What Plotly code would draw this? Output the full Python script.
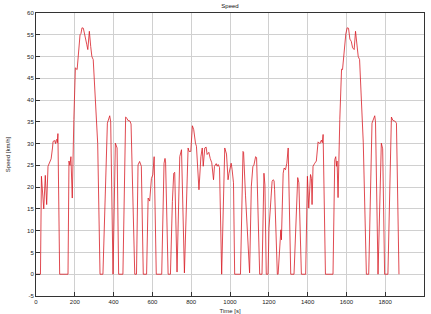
import plotly.graph_objects as go

time_s = [0, 23, 28, 33, 40, 48, 55, 62, 68, 71, 78, 85, 88, 96, 101, 104, 108, 110, 113, 122,
          165, 170, 175, 180, 187, 195, 203, 212, 220, 227, 232, 237, 244, 249, 255, 262, 267, 275,
          282, 288, 295, 318, 330, 345, 368, 372, 380, 385, 397, 409, 418, 426, 448, 462, 469, 474,
          484, 490, 509, 518, 526, 534, 543, 553, 570, 578, 582, 586, 595, 602, 609, 620, 648, 660,
          665, 668, 681, 693, 703, 710, 715, 727, 741, 750, 765, 784, 789, 798, 806, 813, 822, 827,
          840, 850, 857, 862, 870, 877, 882, 891, 898, 906, 915, 920, 929, 934, 939, 946, 957, 973,
          982, 990, 995, 1006, 1011, 1018, 1024, 1054, 1067, 1070, 1080, 1090, 1093, 1101, 1110,
          1118, 1123, 1132, 1137, 1153, 1165, 1175, 1180, 1187, 1196, 1201, 1208, 1217, 1222, 1227,
          1230, 1244, 1248, 1257, 1262, 1265, 1274, 1279, 1286, 1293, 1300, 1313, 1330, 1349, 1355,
          1368, 1390, 1399, 1406, 1415, 1420, 1423, 1428, 1437, 1445, 1454, 1463, 1471, 1476, 1480,
          1492, 1531, 1540, 1545, 1549, 1552, 1557, 1566, 1575, 1580, 1588, 1597, 1604, 1611, 1618,
          1625, 1632, 1640, 1647, 1652, 1661, 1668, 1687, 1703, 1715, 1732, 1739, 1746, 1750, 1763,
          1780, 1787, 1797, 1814, 1832, 1840, 1849, 1858, 1871]

speed_kmh = [0, 0, 22.5, 18, 15, 22.7, 16, 24.8, 25.5, 26, 26.5, 29, 30.5, 30.7, 30, 30.8, 31, 30.2, 32.3, 0,
             0, 26, 25, 27, 17.5, 35.5, 47.4, 47, 52.3, 55, 55.3, 56.6, 56.5, 55.2, 53.9, 52.7, 51.6, 55.8,
             52.3, 50, 49.3, 30, 0, 0, 34.7, 35.5, 36.4, 35, 0, 30.1, 29, 0, 0, 36.1, 35.8, 35.3,
             35.2, 34.5, 0, 0, 25.1, 25.9, 24.8, 0, 0, 17.5, 17, 16.8, 22, 22.8, 27, 0, 0, 25.5,
             26.6, 25.8, 0, 0, 16.7, 23.2, 23.4, 0.5, 27, 28.6, 0.3, 29, 28.2, 28.2, 34.1, 33.2, 30.1, 29.4,
             19.4, 27, 29, 24.8, 29, 29.2, 27.5, 28, 26.6, 25.6, 21.7, 24.8, 25.4, 24.8, 25.2, 24.5, 0, 29,
             27.6, 21.7, 23.2, 25.5, 24, 21, 0, 0, 28.2, 28, 18, 9, 8.7, 0.3, 20.2,
             24.8, 25, 27, 26.8, 0, 0, 23.2, 20.5, 0, 0, 10.6, 15.2, 21.3, 21.7, 21.5,
             19.4, 0, 0, 5.6, 10.2, 7.9, 23.2, 24.4, 24, 25.5, 29, 0, 0, 22.2, 21,
             0, 0, 22.5, 15.2, 22.9, 22, 16, 24.8, 25.5, 26, 30.4, 30, 30.8, 30.2, 32.1,
             0, 0, 26.3, 27, 24.8, 26, 17.6, 35.6, 47.1, 47, 51.5, 55.2, 56.6, 56.5, 54,
             53.5, 52, 51.6, 55.8, 53, 50, 49.3, 30.2, 0, 0, 34.7, 35.8, 36.4, 35, 0,
             30.1, 28.8, 0, 0, 36.1, 35.3, 35.2, 34.7, 0]

x_ticks = list(range(0, 2001, 200))
y_ticks = list(range(-5, 61, 5))

fig = go.Figure()
fig.add_trace(go.Scatter(x=time_s, y=speed_kmh, mode="lines",
                         line=dict(color="#d81c24", width=0.8), showlegend=False))

font_family = "Liberation Sans, Arial, sans-serif"
fig.update_layout(
    width=431, height=314,
    margin=dict(l=36, r=7, t=13, b=18, autoexpand=False),
    paper_bgcolor="white", plot_bgcolor="white",
    font=dict(family=font_family, size=6, color="#222222"),
    title=dict(text="Speed", x=(36 + 194) / 431, xanchor="center",
               y=1 - 6 / 314, yanchor="middle", yref="container",
               font=dict(size=6, color="#111111")),
)
fig.update_xaxes(range=[0, 2000], tickvals=x_ticks, ticktext=[str(v) for v in x_ticks],
                 showgrid=True, gridcolor="#d0d0d0", gridwidth=1,
                 showline=True, linecolor="#333333", linewidth=1, mirror=True,
                 ticks="inside", ticklen=4, tickcolor="#333333", zeroline=False,
                 title=dict(text="Time [s]", standoff=6, font=dict(size=6)), automargin=False)
fig.update_yaxes(range=[-5, 60], tickvals=y_ticks, ticktext=[str(v) for v in y_ticks],
                 showgrid=True, gridcolor="#d0d0d0", gridwidth=1,
                 showline=True, linecolor="#333333", linewidth=1, mirror=True,
                 ticks="inside", ticklen=4, tickcolor="#333333", zeroline=False,
                 title=dict(text="Speed [km/h]", standoff=16, font=dict(size=6)), automargin=False)

fig.write_html("out.html")
